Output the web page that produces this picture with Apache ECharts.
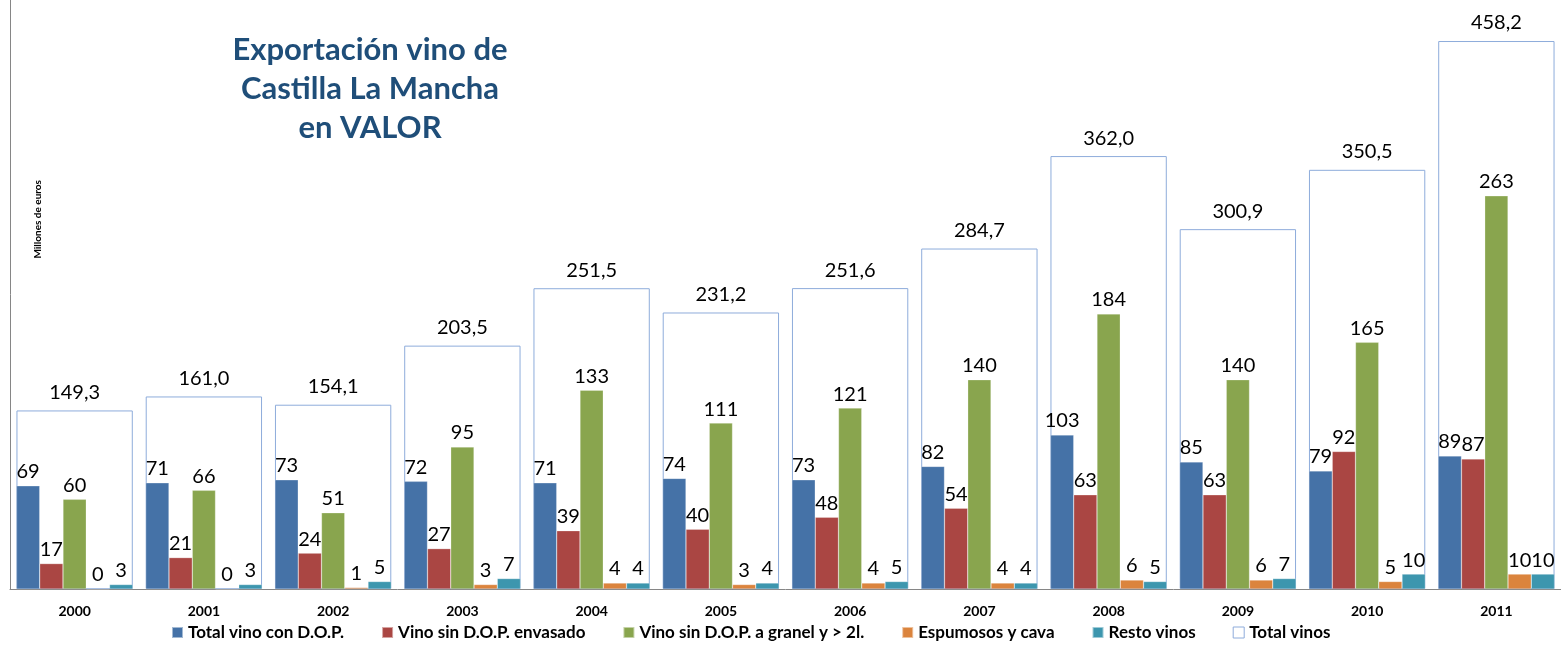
<!DOCTYPE html>
<html>
<head>
<meta charset="utf-8">
<script src="https://cdn.jsdelivr.net/npm/echarts@6/dist/echarts.min.js"></script>
<style>
  html, body { margin: 0; padding: 0; background: #fff; }
  #main { width: 1561px; height: 648px; }
</style>
</head>
<body>
<div id="main"></div>
<script>
// datos
var years = ['2000', '2001', '2002', '2003', '2004', '2005', '2006', '2007', '2008', '2009', '2010', '2011'];
var conDOP = [69, 71, 73, 72, 71, 74, 73, 82, 103, 85, 79, 89];
var sinDOPEnvasado = [17, 21, 24, 27, 39, 40, 48, 54, 63, 63, 92, 87];
var sinDOPGranel = [60, 66, 51, 95, 133, 111, 121, 140, 184, 140, 165, 263];
var espumosos = [0, 0, 1, 3, 4, 3, 4, 4, 6, 6, 5, 10];
var restoVinos = [3, 3, 5, 7, 4, 4, 5, 4, 5, 7, 10, 10];
var totalVinos = [149.3, 161.0, 154.1, 203.5, 251.5, 231.2, 251.6, 284.7, 362.0, 300.9, 350.5, 458.2];

var fontFam = 'Lato, "Open Sans", sans-serif';
var boxColor = '#8EACDB';

function barSerie(name, data, color) {
    return {
        name: name,
        type: 'bar',
        xAxisIndex: 0,
        yAxisIndex: 0,
        barGap: 0,
        barCategoryGap: '10%',
        z: 3,
        itemStyle: {
            color: color,
            borderColor: 'rgba(255,255,255,0.5)',
            borderWidth: 0.5
        },
        label: {
            show: true,
            position: 'top',
            distance: 4,
            color: '#000',
            fontFamily: fontFam,
            fontSize: 20
        },
        data: data
    };
}

var chart = echarts.init(document.getElementById('main'));
var option = {
    backgroundColor: '#fff',
    animation: false,
    title: {
        text: 'Exportación vino de\nCastilla La Mancha\nen VALOR',
        left: 365,
        top: 25,
        textAlign: 'center',
        textStyle: {
            fontFamily: fontFam,
            fontSize: 31,
            fontWeight: 'bold',
            color: '#1F4E79',
            lineHeight: 39
        }
    },
    graphic: [{
        type: 'text',
        left: 33,
        top: 180,
        rotation: Math.PI / 2,
        style: {
            text: 'Millones de euros',
            fontFamily: fontFam,
            fontSize: 10,
            fontWeight: 'bold',
            fill: '#000'
        }
    }],
    legend: {
        left: 166,
        bottom: 2,
        icon: 'rect',
        itemWidth: 11,
        itemHeight: 11,
        itemGap: 37,
        textStyle: {
            fontFamily: fontFam,
            fontSize: 17,
            fontWeight: 'bold',
            color: '#000'
        },
        data: [
            'Total vino con D.O.P.',
            'Vino sin D.O.P. envasado',
            'Vino sin D.O.P. a granel y > 2l.',
            'Espumosos y cava',
            'Resto vinos',
            { name: 'Total vinos', itemStyle: { color: '#fff', borderColor: boxColor, borderWidth: 1 } }
        ]
    },
    grid: {
        left: 10,
        right: -4,
        top: 0,
        bottom: 59,
        containLabel: false
    },
    xAxis: [{
        type: 'category',
        data: years,
        axisLine: { show: true, lineStyle: { color: '#868686' } },
        axisTick: { show: false },
        axisLabel: {
            margin: 15,
            fontFamily: fontFam,
            fontSize: 14,
            fontWeight: 'bold',
            color: '#000'
        }
    }, {
        type: 'category',
        data: years,
        show: false
    }],
    yAxis: [{
        type: 'value',
        min: 0,
        max: 394,
        axisLine: { show: true, lineStyle: { color: '#868686' } },
        axisTick: { show: false },
        axisLabel: { show: false },
        splitLine: { show: false }
    }, {
        type: 'value',
        min: 0,
        max: 492.5,
        show: false,
        splitLine: { show: false }
    }],
    series: [
        barSerie('Total vino con D.O.P.', conDOP, '#4572A7'),
        barSerie('Vino sin D.O.P. envasado', sinDOPEnvasado, '#AA4643'),
        barSerie('Vino sin D.O.P. a granel y > 2l.', sinDOPGranel, '#89A54E'),
        barSerie('Espumosos y cava', espumosos, '#DB843D'),
        barSerie('Resto vinos', restoVinos, '#3D96AE'),
        {
            name: 'Total vinos',
            type: 'bar',
            xAxisIndex: 1,
            yAxisIndex: 1,
            barWidth: '90%',
            z: 1,
            itemStyle: {
                color: 'rgba(255,255,255,0)',
                borderColor: boxColor,
                borderWidth: 1
            },
            label: {
                show: true,
                position: 'top',
                distance: 8,
                color: '#000',
                fontFamily: fontFam,
                fontSize: 20,
                formatter: function (p) {
                    return p.value.toFixed(1).replace('.', ',');
                }
            },
            data: totalVinos
        }
    ]
};
chart.setOption(option);
</script>
</body>
</html>
